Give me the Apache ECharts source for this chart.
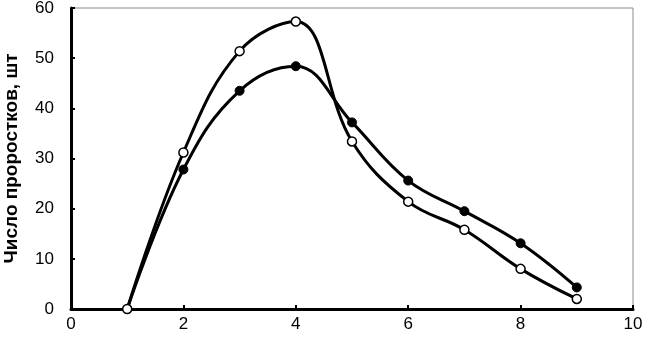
<!DOCTYPE html>
<html>
<head>
<meta charset="utf-8">
<script src="https://cdn.jsdelivr.net/npm/echarts@6/dist/echarts.min.js"></script>
<style>html,body{margin:0;padding:0;background:#fff;}#c{width:645px;height:346px;}</style>
</head>
<body>
<div id="c"></div>
<script>
const xValues = [1, 2, 3, 4, 5, 6, 7, 8, 9];
const filledSeries = [0, 27.8, 43.5, 48.4, 37.2, 25.6, 19.5, 13.1, 4.3];
const openSeries = [0, 31.2, 51.4, 57.3, 33.4, 21.4, 15.8, 8.0, 2.0];
const yAxisName = 'Число проростков, шт';

const chart = echarts.init(document.getElementById('c'));
const font = 'Liberation Sans, Arial, sans-serif';
function pairs(arr){ return xValues.map((x,i)=>[x, arr[i]]); }
chart.setOption({
  animation: false,
  grid: {left: 71, right: 12, top: 8, bottom: 37, show: true, borderColor: '#8a8a8a', borderWidth: 1, outerBoundsMode: 'none', containLabel: false},
  xAxis: {
    type: 'value', min: 0, max: 10, interval: 2,
    axisLine: {show: true, lineStyle: {color: '#000', width: 3}},
    axisTick: {show: true, inside: true, length: 4, lineStyle: {color: '#000', width: 2}},
    axisLabel: {color: '#000', fontFamily: font, fontSize: 17, margin: 7},
    splitLine: {show: false}
  },
  yAxis: {
    type: 'value', min: 0, max: 60, interval: 10,
    name: yAxisName, nameLocation: 'middle', nameGap: 50,
    nameTextStyle: {color: '#000', fontFamily: font, fontSize: 19, fontWeight: 'bold'},
    axisLine: {show: true, lineStyle: {color: '#000', width: 3}},
    axisTick: {show: true, inside: true, length: 4, lineStyle: {color: '#000', width: 2}},
    axisLabel: {color: '#000', fontFamily: font, fontSize: 17, margin: 17},
    splitLine: {show: false}
  },
  series: [
    {
      type: 'line', data: pairs(filledSeries), smooth: 0.4,
      symbol: 'circle', symbolSize: 9,
      lineStyle: {color: '#000', width: 3},
      itemStyle: {color: '#000', borderColor: '#000', borderWidth: 1}
    },
    {
      type: 'line', data: pairs(openSeries), smooth: 0.4,
      symbol: 'circle', symbolSize: 9,
      lineStyle: {color: '#000', width: 3},
      itemStyle: {color: '#fff', borderColor: '#000', borderWidth: 1.5}
    }
  ]
});
</script>
</body>
</html>
